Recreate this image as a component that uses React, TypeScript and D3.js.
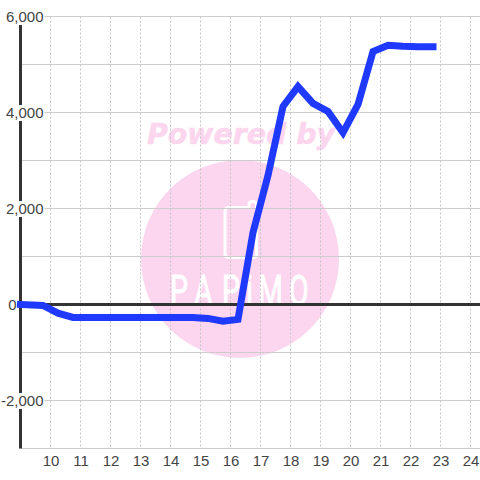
import React, { useRef, useEffect } from 'react';
import * as d3 from 'd3';

const hours = [9, 9.75, 10.25, 10.75, 11.25, 11.75, 12.25, 12.75, 13.25, 13.75, 14.25, 14.75, 15.25, 15.75, 16.25, 16.75, 17.25, 17.75, 18.25, 18.75, 19.25, 19.75, 20.25, 20.75, 21.25, 21.75, 22.25, 22.75];
const values = [0, -20, -180, -270, -270, -270, -270, -270, -270, -270, -270, -270, -290, -350, -310, 1500, 2690, 4125, 4540, 4190, 4020, 3580, 4170, 5270, 5400, 5380, 5370, 5370];
const xTicks = [10, 11, 12, 13, 14, 15, 16, 17, 18, 19, 20, 21, 22, 23, 24];
const yGrid = [6000, 5000, 4000, 3000, 2000, 1000, -1000, -2000, -3000];
const yLabels = [6000, 4000, 2000, 0, -2000];
const logoLetters = ['P', 'A', 'P', 'i', 'M', 'O'];
const logoLetterX = [170, 194, 222, 246, 258, 289];

const App: React.FC = () => {
  const svgRef = useRef<SVGSVGElement | null>(null);

  useEffect(() => {
    if (!svgRef.current) return;
    const svg = d3.select(svgRef.current);
    svg.selectAll('*').remove();

    const x = d3.scaleLinear().domain([9, 24.333]).range([20.5, 480.5]);
    const y = d3.scaleLinear().domain([6000, -3000]).range([16.5, 448.5]);
    const pink = '#fcd5ee';
    const squeeze = 0.68;

    // 透かし
    const mark = svg.append('g');
    mark
      .append('circle')
      .attr('cx', 240)
      .attr('cy', 259)
      .attr('r', 99)
      .attr('fill', pink);
    mark
      .append('text')
      .attr('x', 241)
      .attr('y', 144)
      .attr('text-anchor', 'middle')
      .attr('font-family', 'DejaVu Sans')
      .attr('font-weight', 'bold')
      .attr('font-style', 'italic')
      .attr('font-size', 28.4)
      .attr('fill', pink)
      .attr('stroke', pink)
      .attr('stroke-width', 0.5)
      .text('Powered by');
    mark
      .append('path')
      .attr('d', 'M229 207.5H249V204.5Q249 201.5 252 201.5H253Q256.5 201.5 256.5 205V254Q256.5 257.5 253 257.5H229Q225 257.5 225 254V211Q225 207.5 229 207.5Z')
      .attr('fill', 'none')
      .attr('stroke', '#fff')
      .attr('stroke-width', 3);
    mark
      .append('g')
      .attr('transform', `translate(0,305) scale(${squeeze},1)`)
      .selectAll('text')
      .data(logoLetters)
      .enter()
      .append('text')
      .attr('x', (_, i) => logoLetterX[i] / squeeze)
      .attr('font-family', 'Roboto')
      .attr('font-weight', 400)
      .attr('font-size', 42)
      .attr('fill', '#fff')
      .attr('stroke', '#fff')
      .attr('stroke-width', 0.9)
      .text((d) => d);

    // グリッド
    svg
      .append('g')
      .selectAll('line')
      .data(xTicks)
      .enter()
      .append('line')
      .attr('x1', (d) => x(d))
      .attr('x2', (d) => x(d))
      .attr('y1', y(6000))
      .attr('y2', y(-3000))
      .attr('stroke', '#c4c4c4')
      .attr('stroke-width', 1)
      .attr('stroke-dasharray', '2,2');
    svg
      .append('g')
      .selectAll('line')
      .data(yGrid)
      .enter()
      .append('line')
      .attr('x1', x(9))
      .attr('x2', 480)
      .attr('y1', (d) => y(d))
      .attr('y2', (d) => y(d))
      .attr('stroke', '#ccc')
      .attr('stroke-width', 1);

    // 軸
    svg
      .append('line')
      .attr('x1', x(9))
      .attr('x2', x(9))
      .attr('y1', y(6000))
      .attr('y2', y(-3000))
      .attr('stroke', '#333')
      .attr('stroke-width', 3);
    svg
      .append('line')
      .attr('x1', x(9))
      .attr('x2', 480)
      .attr('y1', y(0))
      .attr('y2', y(0))
      .attr('stroke', '#333')
      .attr('stroke-width', 3);

    // 折れ線
    const line = d3
      .line<number>()
      .x((d) => x(d))
      .y((_, i) => y(values[i]));
    svg
      .append('path')
      .attr('d', line(hours))
      .attr('fill', 'none')
      .attr('stroke', '#1f39ff')
      .attr('stroke-width', 7)
      .attr('stroke-linecap', 'square')
      .attr('stroke-linejoin', 'miter');

    // 軸ラベル
    const yAxisG = svg
      .append('g')
      .attr('transform', `translate(${x(9)},0)`)
      .call(
        d3
          .axisLeft(y)
          .tickValues(yLabels)
          .tickSize(0)
          .tickPadding(-23)
          .tickFormat((d) => d3.format(',')(d as number).replace('\u2212', '-'))
      );
    yAxisG.select('.domain').remove();
    yAxisG
      .selectAll('text')
      .attr('font-family', 'Liberation Sans')
      .attr('font-size', 15)
      .attr('fill', '#444');
    yAxisG.selectAll<SVGGElement, number>('.tick').each(function (d) {
      const label = this.querySelector('text') as SVGTextElement;
      // 0 のラベルだけ軸の左側
      if (d === 0) {
        label.setAttribute('x', '-4');
        return;
      }
      const box = label.getBBox();
      d3.select(this)
        .insert('rect', 'text')
        .attr('x', box.x - 1)
        .attr('y', -8)
        .attr('width', box.width + 2)
        .attr('height', 16)
        .attr('fill', '#fff');
    });

    const xAxisG = svg
      .append('g')
      .attr('transform', `translate(0,${y(-3000)})`)
      .call(d3.axisBottom(x).tickValues(xTicks).tickSize(0).tickPadding(7).tickFormat((d) => String(d)));
    xAxisG.select('.domain').remove();
    xAxisG
      .selectAll('text')
      .attr('font-family', 'Liberation Sans')
      .attr('font-size', 15)
      .attr('fill', '#444');
  }, []);

  return <svg ref={svgRef} width={480} height={480} style={{ position: 'absolute', left: 0, top: 0, background: '#fff' }} />;
};

export default App;
